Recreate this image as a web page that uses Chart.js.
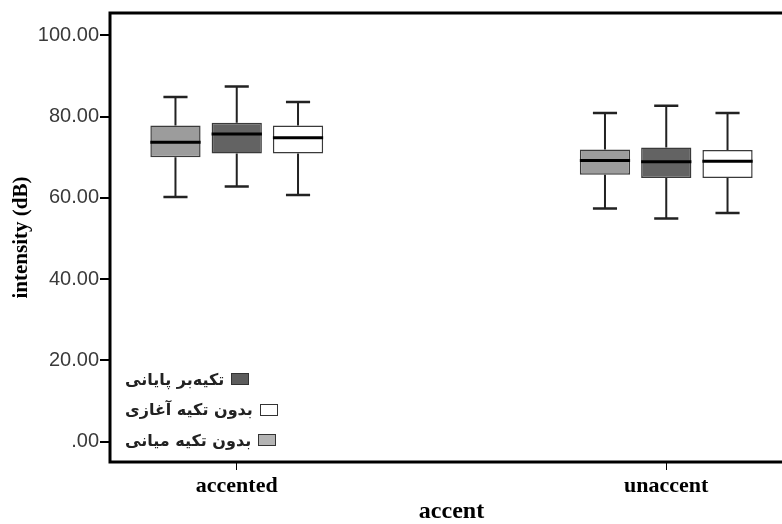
<!DOCTYPE html>
<html>
<head>
<meta charset="utf-8">
<script src="https://cdn.jsdelivr.net/npm/chart.js@4.4.1/dist/chart.umd.min.js"></script>
<style>
  html, body { margin: 0; padding: 0; background: #fff; overflow: hidden; }
  #wrap { position: relative; width: 800px; height: 524px; }
  #legend { position: absolute; left: 125px; top: 364px; font-family: "DejaVu Sans", sans-serif;
            font-size: 16px; font-weight: bold; color: #222; }
  .row { display: flex; align-items: center; height: 30.5px; }
  .row span.t { direction: rtl; }
  .row span.b { display: inline-block; width: 16px; height: 10px; border: 1px solid #333; margin-left: 7px; }
</style>
</head>
<body>
<div id="wrap">
  <canvas id="box"></canvas>
  <div id="legend"></div>
</div>
<script>
// box plot: intensity (dB) by accent, three stress groups
const groups = ['accented', 'unaccent'];
const yTicks = [0, 20, 40, 60, 80, 100];

// each entry: [min, q1, median, q3, max] per group
const medialStats  = [[60.2, 70.0, 73.7, 77.8, 84.8], [57.4, 65.7, 69.2, 71.9, 80.9]];
const finalStats   = [[62.8, 70.9, 75.7, 78.5, 87.4], [54.9, 64.9, 68.9, 72.4, 82.7]];
const initialStats = [[60.7, 70.9, 74.8, 77.8, 83.6], [56.3, 64.9, 69.0, 71.8, 80.9]];

const seriesNames  = ['بدون تکیه میانی', 'تکیه‌بر پایانی', 'بدون تکیه آغازی'];
const seriesColors = ['#9c9c9c', '#636363', '#ffffff'];
const legendColors = ['#b4b4b4', '#5c5c5c', '#ffffff'];
const legendOrder  = [1, 2, 0];

const allStats = [medialStats, finalStats, initialStats];

const datasets = allStats.map((stats, k) => ({
  label: seriesNames[k],
  data: stats.map((s, g) => ({ x: g + 1, y: [s[1], s[3]], stats: s })),
  backgroundColor: seriesColors[k],
  borderColor: '#3a3a3a',
  borderWidth: 1.5,
  borderSkipped: false,
  categoryPercentage: 0.428,
  barPercentage: 0.82,
}));

// whiskers + medians drawn on top of the floating bars
const whiskers = {
  id: 'whiskers',
  afterDatasetsDraw(chart) {
    const ctx = chart.ctx;
    const y = chart.scales.y;
    chart.data.datasets.forEach((ds, i) => {
      const meta = chart.getDatasetMeta(i);
      meta.data.forEach((el, j) => {
        const s = ds.data[j].stats;
        const x = el.x, w = el.width;
        const cap = w * 0.24;
        ctx.save();
        ctx.strokeStyle = '#222';
        ctx.lineWidth = 2;
        ctx.beginPath();
        ctx.moveTo(x, y.getPixelForValue(s[3])); ctx.lineTo(x, y.getPixelForValue(s[4]));
        ctx.moveTo(x, y.getPixelForValue(s[1])); ctx.lineTo(x, y.getPixelForValue(s[0]));
        ctx.stroke();
        ctx.lineWidth = 2.5;
        ctx.beginPath();
        ctx.moveTo(x - cap, y.getPixelForValue(s[4])); ctx.lineTo(x + cap, y.getPixelForValue(s[4]));
        ctx.moveTo(x - cap, y.getPixelForValue(s[0])); ctx.lineTo(x + cap, y.getPixelForValue(s[0]));
        ctx.stroke();
        ctx.strokeStyle = '#000';
        ctx.lineWidth = 3;
        ctx.beginPath();
        ctx.moveTo(x - w / 2, y.getPixelForValue(s[2])); ctx.lineTo(x + w / 2, y.getPixelForValue(s[2]));
        ctx.stroke();
        ctx.restore();
      });
    });
  }
};

const frame = {
  id: 'frame',
  afterDraw(chart) {
    const { left, top, right, bottom } = chart.chartArea;
    const ctx = chart.ctx;
    ctx.save();
    ctx.strokeStyle = '#000';
    ctx.lineWidth = 3;
    ctx.strokeRect(left, top, right - left, bottom - top);
    ctx.restore();
  }
};

new Chart(document.getElementById('box'), {
  type: 'bar',
  data: { datasets },
  options: {
    responsive: true,
    maintainAspectRatio: false,
    animation: false,
    devicePixelRatio: 1,
    layout: { padding: { top: 10, right: 7, left: 0, bottom: 0 } },
    plugins: { legend: { display: false }, tooltip: { enabled: false } },
    scales: {
      x: {
        type: 'linear',
        min: 0.7049,
        max: 2.2951,
        offset: false,
        afterBuildTicks: (axis) => { axis.ticks = groups.map((g, i) => ({ value: i + 1 })); },
        afterFit: (axis) => { axis.height = 62; },
        ticks: {
          color: '#000',
          padding: 3,
          font: { family: '"Liberation Serif", serif', size: 22, weight: 'bold' },
          callback: (v) => groups[v - 1],
        },
        grid: { offset: false, drawOnChartArea: false, drawTicks: true, tickLength: 8, color: '#000', lineWidth: 1 },
        border: { display: false },
        title: {
          display: true,
          text: 'accent',
          color: '#000',
          padding: 0,
          font: { family: '"Liberation Serif", serif', size: 24, weight: 'bold', lineHeight: 1 },
        },
      },
      y: {
        min: -5,
        max: 105.5,
        afterBuildTicks: (axis) => { axis.ticks = yTicks.map(v => ({ value: v })); },
        afterFit: (axis) => { axis.width = 110; },
        ticks: {
          color: '#3a3a3a',
          padding: 1,
          font: { family: '"Liberation Sans", Arial, sans-serif', size: 20 },
          callback: (v) => v === 0 ? '.00' : v.toFixed(2),
        },
        grid: { drawOnChartArea: false, drawTicks: true, tickLength: 10, color: '#000', lineWidth: 2 },
        border: { display: false },
        title: {
          display: true,
          text: 'intensity (dB)',
          color: '#000',
          padding: { top: 9, bottom: 0 },
          font: { family: '"Liberation Serif", serif', size: 21, weight: 'bold', lineHeight: 1.2 },
        },
      },
    },
  },
  plugins: [whiskers, frame],
});

// legend inside the plot, bottom-left, box after the text
const legend = document.getElementById('legend');
legendOrder.forEach(k => {
  const row = document.createElement('div');
  row.className = 'row';
  const t = document.createElement('span');
  t.className = 't';
  t.textContent = seriesNames[k];
  const b = document.createElement('span');
  b.className = 'b';
  b.style.background = legendColors[k];
  row.appendChild(t);
  row.appendChild(b);
  legend.appendChild(row);
});
</script>
</body>
</html>
